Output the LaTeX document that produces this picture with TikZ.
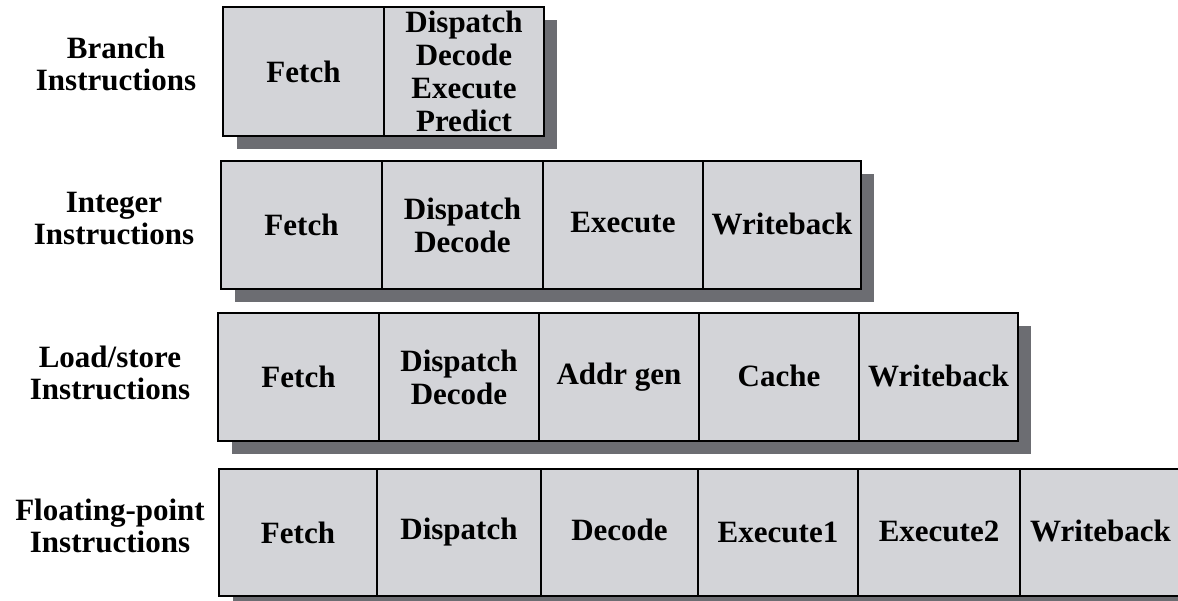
\documentclass[tikz,border=0pt]{standalone}
\usepackage{fontspec}
\setmainfont{Liberation Serif}
\definecolor{cellgray}{RGB}{211,212,216}
\definecolor{shadowgray}{RGB}{108,109,114}
\begin{document}
\begin{tikzpicture}[x=1pt,y=-1pt,
  stage/.style={draw, line width=2.6pt, fill=cellgray, anchor=north west,
    inner sep=0pt, outer sep=0pt, align=center,
    font=\fontsize{31}{33}\selectfont\bfseries},
  rowlabel/.style={align=center, inner sep=0pt,
    font=\fontsize{31}{32}\selectfont\bfseries},
  shade/.style={fill=shadowgray, draw=none}]
\useasboundingbox (0,0) rectangle (1178,601);
\clip (0,0) rectangle (1178,601);

% drop shadows behind each pipeline row
\fill[shade] (237,20) rectangle (557,149);
\fill[shade] (235,174) rectangle (874,302);
\fill[shade] (232,326) rectangle (1031,454);
\fill[shade] (233,482) rectangle (1194,609);

% row labels
\node[rowlabel] (lbranch) at (116,64) {Branch\\Instructions};
\node[rowlabel] (lint)    at (114,219) {Integer\\Instructions};
\node[rowlabel] (lls)     at (110,373) {Load/store\\Instructions};
\node[rowlabel] (lfp)     at (110,526) {Floating-point\\Instructions};

% branch pipeline
\node[stage, minimum width=161pt, minimum height=129pt] (b1) at (223,7) {Fetch};
\node[stage, minimum width=160pt, minimum height=129pt] (b2) at (384,7) {Dispatch\\Decode\\Execute\\Predict};

% integer pipeline
\node[stage, minimum width=161pt, minimum height=128pt] (i1) at (221,161) {Fetch};
\node[stage, minimum width=161pt, minimum height=128pt] (i2) at (382,161) {Dispatch\\Decode};
\node[stage, minimum width=160pt, minimum height=128pt] (i3) at (543,161) {\raisebox{5pt}{Execute}};
\node[stage, minimum width=158pt, minimum height=128pt] (i4) at (703,161) {\raisebox{3pt}{Writeback}};

% load/store pipeline
\node[stage, minimum width=161pt, minimum height=128pt] (s1) at (218,313) {Fetch};
\node[stage, minimum width=160pt, minimum height=128pt] (s2) at (379,313) {Dispatch\\Decode};
\node[stage, minimum width=160pt, minimum height=128pt] (s3) at (539,313) {\raisebox{6pt}{Addr gen}};
\node[stage, minimum width=160pt, minimum height=128pt] (s4) at (699,313) {\raisebox{3pt}{Cache}};
\node[stage, minimum width=159pt, minimum height=128pt] (s5) at (859,313) {\raisebox{3pt}{Writeback}};

% floating-point pipeline
\node[stage, minimum width=158pt, minimum height=127pt] (f1) at (219,469) {Fetch};
\node[stage, minimum width=164pt, minimum height=127pt] (f2) at (377,469) {Dispatch};
\node[stage, minimum width=157pt, minimum height=127pt] (f3) at (541,469) {\raisebox{6pt}{Decode}};
\node[stage, minimum width=160pt, minimum height=127pt] (f4) at (698,469) {Execute1};
\node[stage, minimum width=162pt, minimum height=127pt] (f5) at (858,469) {\raisebox{3pt}{Execute2}};
\node[stage, minimum width=161pt, minimum height=127pt] (f6) at (1020,469) {\raisebox{3pt}{Writeback}};
\end{tikzpicture}
\end{document}
